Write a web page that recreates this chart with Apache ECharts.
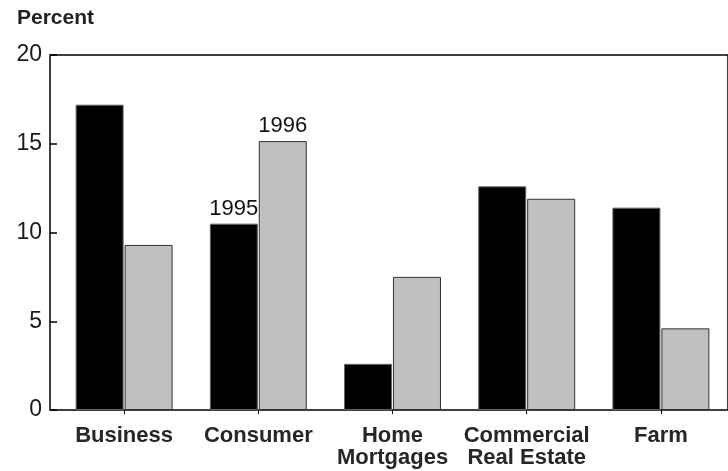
<!DOCTYPE html>
<html>
<head>
<meta charset="utf-8">
<script src="https://cdn.jsdelivr.net/npm/echarts@6/dist/echarts.min.js"></script>
<style>html,body{margin:0;padding:0;background:#fff}#c{width:728px;height:471px}</style>
</head>
<body>
<div id="c"></div>
<script>
const categories = ['Business', 'Consumer', 'Home\nMortgages', 'Commercial\nReal Estate', 'Farm'];
const values1995 = [17.2, 10.5, 2.6, 12.6, 11.4];
const values1996 = [9.3, 15.15, 7.5, 11.9, 4.6];
const yTicks = [0, 5, 10, 15, 20];
const labelIndex = 1;

const font = 'Liberation Sans, Arial, sans-serif';
const chart = echarts.init(document.getElementById('c'));

function withLabel(vals, name) {
  return vals.map((v, i) => i === labelIndex ? {
    value: v,
    label: { show: true, position: 'top', distance: 4, formatter: name, fontSize: 22, color: '#111', fontFamily: font }
  } : v);
}

chart.setOption({
  animation: false,
  title: { text: 'Percent', left: 12, top: 3, textStyle: { fontSize: 21, fontWeight: 'bold', color: '#222', fontFamily: font } },
  grid: [
    { left: 57, right: -7, top: 55, bottom: 61 },
    { left: 50, right: -5, top: 55, bottom: 61, show: true, borderColor: '#000', borderWidth: 1.5, backgroundColor: 'transparent' }
  ],
  xAxis: [
    {
      type: 'category', data: categories, gridIndex: 0,
      axisLine: { show: false },
      axisTick: { show: true, alignWithLabel: true, length: 4, lineStyle: { color: '#000' } },
      axisLabel: { fontSize: 22, fontWeight: 'bold', color: '#262626', fontFamily: font, margin: 15, lineHeight: 22, interval: 0 }
    },
    { type: 'value', gridIndex: 1, min: 0, max: 1, show: false }
  ],
  yAxis: [
    {
      type: 'value', gridIndex: 0, min: yTicks[0], max: yTicks[yTicks.length - 1], interval: 5, offset: 7,
      axisLine: { show: false },
      axisTick: { show: true, inside: true, length: 7, lineStyle: { color: '#000', width: 1.5 } },
      axisLabel: { fontSize: 23, color: '#1a1a1a', fontFamily: font, margin: 8, padding: [4, 0, 0, 0] },
      splitLine: { show: false }
    },
    { type: 'value', gridIndex: 1, min: 0, max: 1, show: false }
  ],
  series: [
    {
      name: '1995', type: 'bar', xAxisIndex: 0, yAxisIndex: 0,
      data: withLabel(values1995, '1995'),
      barWidth: 48, barGap: '2%',
      itemStyle: { color: '#000', borderColor: '#666', borderWidth: 1 }
    },
    {
      name: '1996', type: 'bar', xAxisIndex: 0, yAxisIndex: 0,
      data: withLabel(values1996, '1996'),
      barWidth: 48,
      itemStyle: { color: '#c0c0c0', borderColor: '#333', borderWidth: 1 }
    }
  ]
});
</script>
</body>
</html>
